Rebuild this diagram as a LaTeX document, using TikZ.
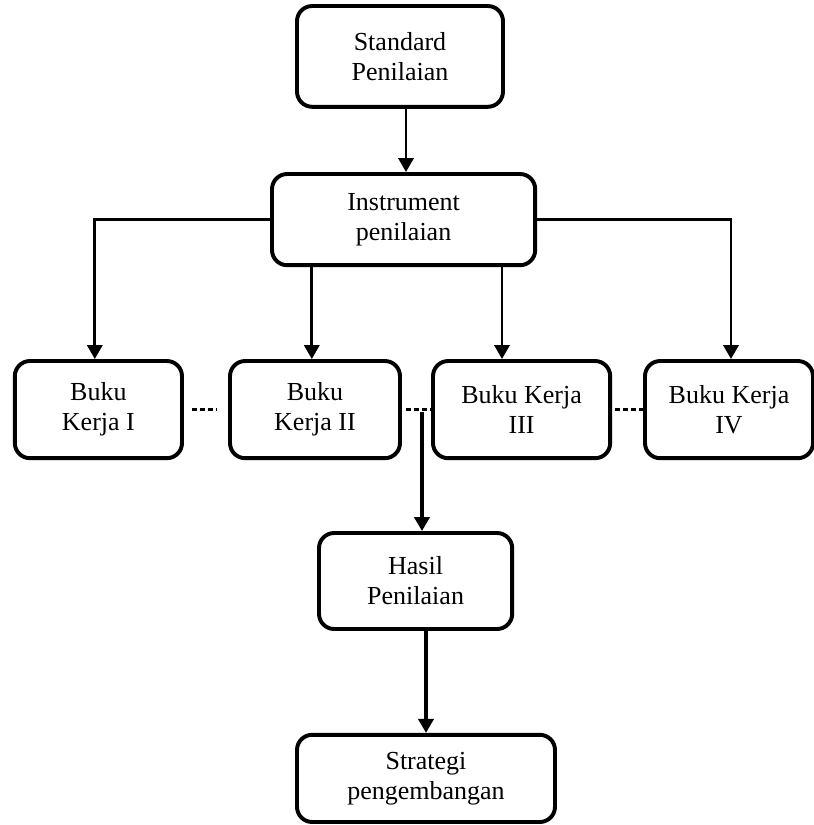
\documentclass[tikz,border=0pt]{standalone}
\usepackage{fontspec}
\setmainfont{Liberation Serif}
\usetikzlibrary{arrows.meta}

\begin{document}
\begin{tikzpicture}[
    box/.style={rectangle, draw, rounded corners=0.38cm, line width=2.8pt, align=center, font=\fontsize{18.5}{21.3}\selectfont},
    arrow/.style={-{Triangle[length=0.35cm, width=0.38cm]}, line width=2.1pt},
    bigarrow/.style={arrow, line width=2.8pt},
    dots/.style={line width=2.6pt, dash pattern=on 0.12cm off 0.08cm}
]
\useasboundingbox (0,0) rectangle (20.35,-20.625);

% Nodes
\node[box, minimum width=5.15cm, minimum height=2.52cm] (Standard) at (10.0,-1.41) {Standard\\Penilaian};
\node[box, minimum width=6.58cm, minimum height=2.28cm] (Instrument) at (10.09,-5.49) {Instrument\\penilaian};

\node[box, minimum width=4.18cm, minimum height=2.43cm] (BukuI) at (2.46,-10.24) {Buku\\Kerja I};
\node[box, minimum width=4.25cm, minimum height=2.43cm] (BukuII) at (7.875,-10.24) {Buku\\Kerja II};
\node[box, minimum width=4.43cm, minimum height=2.43cm] (BukuIII) at (13.04,-10.24) {Buku Kerja\\III};
\node[box, minimum width=4.2cm, minimum height=2.43cm] (BukuIV) at (18.225,-10.24) {Buku Kerja\\IV};

\node[box, minimum width=4.83cm, minimum height=2.4cm] (Hasil) at (10.39,-14.525) {Hasil\\Penilaian};
\node[box, minimum width=6.45cm, minimum height=2.18cm] (Strategi) at (10.65,-19.46) {Strategi\\pengembangan};

\coordinate (Join) at (10.55,-10.3);

% Edges
\draw[arrow] ([xshift=0.15cm]Standard.south) -- ([xshift=0.15cm]Standard.south |- Instrument.north);
\draw[arrow] (Instrument.west) -| ([xshift=-0.09cm]BukuI.north);
\draw[arrow] (Instrument.east) -| ([xshift=0.05cm]BukuIV.north);
\draw[arrow] ([xshift=-0.08cm]BukuII.north |- Instrument.south) -- ([xshift=-0.08cm]BukuII.north);
\draw[arrow] ([xshift=-0.49cm]BukuIII.north |- Instrument.south) -- ([xshift=-0.49cm]BukuIII.north);

\draw[dots] ([xshift=0.2cm]BukuI.east) -- ([xshift=-0.3cm]BukuII.west);
\draw[dots] ([xshift=0.1cm]BukuII.east) -- (BukuIII.west);
\draw[dots] ([xshift=0.08cm]BukuIII.east) -- (BukuIV.west);

\draw[bigarrow] (Join) -- (Join |- Hasil.north);
\draw[bigarrow] (Hasil.south -| Strategi.north) -- (Strategi.north);

\end{tikzpicture}
\end{document}
